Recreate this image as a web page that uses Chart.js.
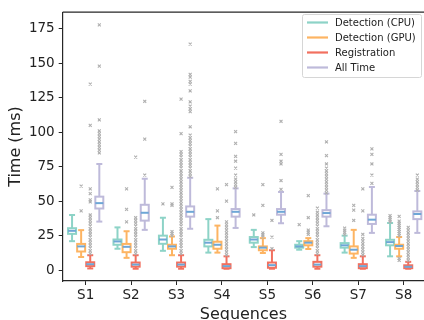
<!DOCTYPE html>
<html>
<head>
<meta charset="utf-8">
<script src="https://cdn.jsdelivr.net/npm/chart.js@4"></script>
<style>
  html, body { margin: 0; padding: 0; background: #fff; overflow: hidden; }
  #wrap { width: 424px; height: 320px; }
</style>
</head>
<body>
<div id="wrap"><canvas id="chart" width="424" height="320"></canvas></div>
<script>
const sequences = ['S1', 'S2', 'S3', 'S4', 'S5', 'S6', 'S7', 'S8']
const seriesNames = ['Detection (CPU)', 'Detection (GPU)', 'Registration', 'All Time']
const yTicks = [0, 25, 50, 75, 100, 125, 150, 175]

// Detection (CPU)
const cpuLow  = [21, 15.5, 14, 12.7, 16.7, 14.8, 12.7, 10]
const cpuQ1   = [26.3, 18.4, 19.1, 17.2, 19.9, 16.3, 16.3, 18]
const cpuMed  = [28.5, 20.8, 22.2, 19.9, 22.2, 17.2, 18, 20.3]
const cpuQ3   = [30.4, 22.2, 25, 22, 24, 18.4, 19.6, 22]
const cpuHigh = [40, 31, 38, 37, 29.2, 21, 25, 34.2]
const cpuOut  = [[], [], [48], [], [40], [33], [26, 27.5, 29, 30.5], [35, 36.5, 38, 39.5]]

// Detection (GPU)
const gpuLow  = [9.5, 8.9, 10.8, 12.7, 12.4, 15.3, 8.9, 10]
const gpuQ1   = [13.5, 13, 15.5, 15.5, 14.4, 18, 12, 15.5]
const gpuMed  = [17.2, 16.9, 17.2, 18.4, 16.3, 19.9, 14.8, 17.5]
const gpuQ3   = [19, 19, 18.4, 20.6, 17.2, 21, 17.2, 18.4]
const gpuHigh = [29, 28.2, 24.4, 32.3, 23.2, 23.2, 29.2, 24]
const gpuOut  = [
  [43, 61],
  [35, 44, 59],
  [25, 26.5, 28, 47, 48, 60],
  [38, 43, 59],
  [24, 25.5, 27, 47, 62],
  [26, 27.5, 29, 38, 54],
  [36, 43.5, 47],
  [7, 8.5, 25, 26.5, 28, 29.5, 31, 32.5, 34, 35.5, 39]
]

// Registration
const regLow  = [1.2, 1, 1, 1, 1, 1, 1, 1]
const regQ1   = [2.9, 2.5, 2.5, 1.4, 1.7, 2.5, 1.4, 1.4]
const regMed  = [4.3, 4, 4, 2.9, 3.6, 4, 2.9, 2.4]
const regQ3   = [5.7, 5.5, 5.5, 4.3, 5.5, 6, 4.3, 3.5]
const regHigh = [10.8, 10.8, 10.8, 10, 14.4, 10.8, 10, 6]
const regOut  = [
  [12, 14, 16, 18, 20, 22, 24, 26, 28, 30, 32, 34, 36, 38, 40, 49.5, 51, 55.5, 59, 105, 135],
  [12, 14, 16, 18, 20, 22, 24, 26, 28, 30, 32, 34, 36, 38, 82],
  [12, 14, 16, 18, 20, 22, 24, 26, 28, 30, 32, 34, 36, 38, 40, 42, 44, 46, 48, 50, 52, 54, 56, 58,
   60, 62, 64, 66, 68, 70, 72, 74, 76, 78, 80, 82, 84, 86, 99, 124],
  [11, 13, 15, 17, 19, 21, 23, 25, 27, 29, 31, 33, 35, 50, 62],
  [15.5, 24, 36],
  [12, 14, 16, 18, 20, 22, 24, 26, 28, 30, 32, 34, 36, 38, 40, 42, 45],
  [11, 13, 15, 17, 19, 21, 23, 26, 43, 59],
  [7, 9, 11, 13, 15, 17, 19, 21, 23, 25, 27, 29, 31]
]

// All Time
const allLow  = [35.2, 29.2, 30, 30.6, 34, 31.8, 27, 27]
const allQ1   = [44.7, 35.9, 38.8, 38.8, 40.2, 38.8, 33.5, 37]
const allMed  = [48.6, 41.6, 42.3, 42.3, 42.3, 41.4, 36.6, 40.7]
const allQ3   = [53.3, 47.4, 46.2, 44.3, 44.3, 43.5, 40.2, 42.6]
const allHigh = [77, 66.3, 67, 59.3, 56.7, 55.5, 60.3, 57.4]
const allOut  = [
  [85, 87, 89, 91, 93, 95, 97, 99, 101, 109, 148, 178],
  [69, 95, 122.5],
  [68, 70, 72, 74, 76, 78, 80, 82, 84, 86, 88, 90, 92, 94, 96, 98, 104, 115, 117, 119, 122, 130, 135, 137, 140, 142, 164],
  [60, 62, 64, 66, 69, 74, 79, 82.5, 92, 100.5],
  [58.6, 65, 77, 79, 84, 108],
  [56, 58, 60, 62, 64, 66, 68, 70, 72, 74, 77, 83, 93],
  [63, 69, 77, 84, 88],
  [58, 60, 62, 64, 66, 69]
]

const colors = ['#8dd3c7', '#fdb462', '#f2705f', '#bebada']
const medianColor = '#6ea6d6'
const offsets = [-0.3, -0.1, 0.1, 0.3]
const boxHalf = 0.088
const capHalf = 0.066

const stats = [
  { low: cpuLow, q1: cpuQ1, med: cpuMed, q3: cpuQ3, high: cpuHigh, out: cpuOut },
  { low: gpuLow, q1: gpuQ1, med: gpuMed, q3: gpuQ3, high: gpuHigh, out: gpuOut },
  { low: regLow, q1: regQ1, med: regMed, q3: regQ3, high: regHigh, out: regOut },
  { low: allLow, q1: allQ1, med: allMed, q3: allQ3, high: allHigh, out: allOut }
]

const datasets = stats.map((s, k) => ({
  label: seriesNames[k],
  data: s.out.flatMap((vals, i) => vals.map(v => ({ x: i + 1 + offsets[k], y: v }))),
  pointStyle: 'crossRot',
  pointRadius: 2.1,
  borderColor: '#b0b0b0',
  backgroundColor: '#b0b0b0',
  pointBorderWidth: 1.1
}))

function line(ctx, x1, y1, x2, y2) {
  ctx.beginPath()
  ctx.moveTo(x1, y1)
  ctx.lineTo(x2, y2)
  ctx.stroke()
}

const boxPlugin = {
  id: 'boxes',
  beforeDatasetsDraw(chart) {
    const { ctx, scales: { x, y } } = chart
    ctx.save()
    ctx.lineWidth = 2
    stats.forEach((s, k) => {
      sequences.forEach((name, i) => {
        const c = i + 1 + offsets[k]
        const xc = x.getPixelForValue(c)
        const xl = x.getPixelForValue(c - boxHalf)
        const xr = x.getPixelForValue(c + boxHalf)
        const cl = x.getPixelForValue(c - capHalf)
        const cr = x.getPixelForValue(c + capHalf)
        const yLow = y.getPixelForValue(s.low[i])
        const yQ1 = y.getPixelForValue(s.q1[i])
        const yMed = y.getPixelForValue(s.med[i])
        const yQ3 = y.getPixelForValue(s.q3[i])
        const yHigh = y.getPixelForValue(s.high[i])
        ctx.strokeStyle = colors[k]
        line(ctx, xc, yLow, xc, yQ1)
        line(ctx, xc, yQ3, xc, yHigh)
        line(ctx, cl, yLow, cr, yLow)
        line(ctx, cl, yHigh, cr, yHigh)
        ctx.fillStyle = '#fff'
        ctx.fillRect(xl, yQ3, xr - xl, yQ1 - yQ3)
        ctx.strokeRect(xl, yQ3, xr - xl, yQ1 - yQ3)
        ctx.strokeStyle = medianColor
        line(ctx, xl, yMed, xr, yMed)
      })
    })
    ctx.restore()
  },
  afterDraw(chart) {
    const { ctx, chartArea } = chart
    ctx.save()
    // top frame line
    ctx.strokeStyle = '#262626'
    ctx.lineWidth = 1.2
    line(ctx, chartArea.left, chartArea.top, chartArea.right, chartArea.top)
    // legend box
    const lx = 302.5, ly = 14.5, lw = 119, lh = 63
    ctx.fillStyle = 'rgba(255,255,255,0.85)'
    ctx.strokeStyle = '#d6d6d6'
    ctx.lineWidth = 1
    ctx.beginPath()
    ctx.roundRect(lx, ly, lw, lh, 2)
    ctx.fill()
    ctx.stroke()
    ctx.font = '10px "DejaVu Sans"'
    ctx.textBaseline = 'middle'
    ctx.fillStyle = '#222'
    seriesNames.forEach((n, k) => {
      const yy = 22.5 + k * 15
      ctx.strokeStyle = colors[k]
      ctx.lineWidth = 2.2
      line(ctx, 307, yy, 328, yy)
      ctx.fillText(n, 335, yy + 0.5)
    })
    ctx.restore()
  }
}

new Chart(document.getElementById('chart'), {
  type: 'scatter',
  data: { datasets: datasets },
  options: {
    responsive: false,
    animation: false,
    events: [],
    layout: { autoPadding: false, padding: { top: 9, right: 0, left: 0, bottom: 0 } },
    plugins: { legend: { display: false }, tooltip: { enabled: false } },
    scales: {
      x: {
        type: 'linear',
        min: 0.494,
        max: 8.447,
        afterBuildTicks: scale => { scale.ticks = sequences.map((s, i) => ({ value: i + 1 })) },
        afterFit: scale => {
          scale.height = 39
          scale.paddingLeft = 0
          scale.paddingRight = 0
        },
        ticks: {
          callback: v => sequences[v - 1],
          font: { family: 'DejaVu Sans', size: 13.5 },
          color: '#222',
          padding: 2,
          maxRotation: 0,
          autoSkip: false
        },
        grid: { drawOnChartArea: false, drawTicks: true, tickLength: 4, color: '#262626' },
        border: { display: true, color: '#262626', width: 1.2 },
        title: {
          display: true,
          text: 'Sequences',
          font: { family: 'DejaVu Sans', size: 16 },
          color: '#222',
          padding: { top: 0, bottom: -4 }
        }
      },
      y: {
        min: -7.9,
        max: 187.2,
        afterBuildTicks: scale => { scale.ticks = yTicks.map(v => ({ value: v })) },
        afterFit: scale => { scale.width = 62.7 },
        ticks: {
          font: { family: 'DejaVu Sans', size: 13.5 },
          color: '#222',
          padding: 4
        },
        grid: { drawOnChartArea: false, drawTicks: true, tickLength: 4, color: '#262626' },
        border: { display: true, color: '#262626', width: 1.2 },
        title: {
          display: true,
          text: 'Time (ms)',
          font: { family: 'DejaVu Sans', size: 16 },
          color: '#222',
          padding: { top: 6, bottom: 0 }
        }
      }
    }
  },
  plugins: [boxPlugin]
})
</script>
</body>
</html>
